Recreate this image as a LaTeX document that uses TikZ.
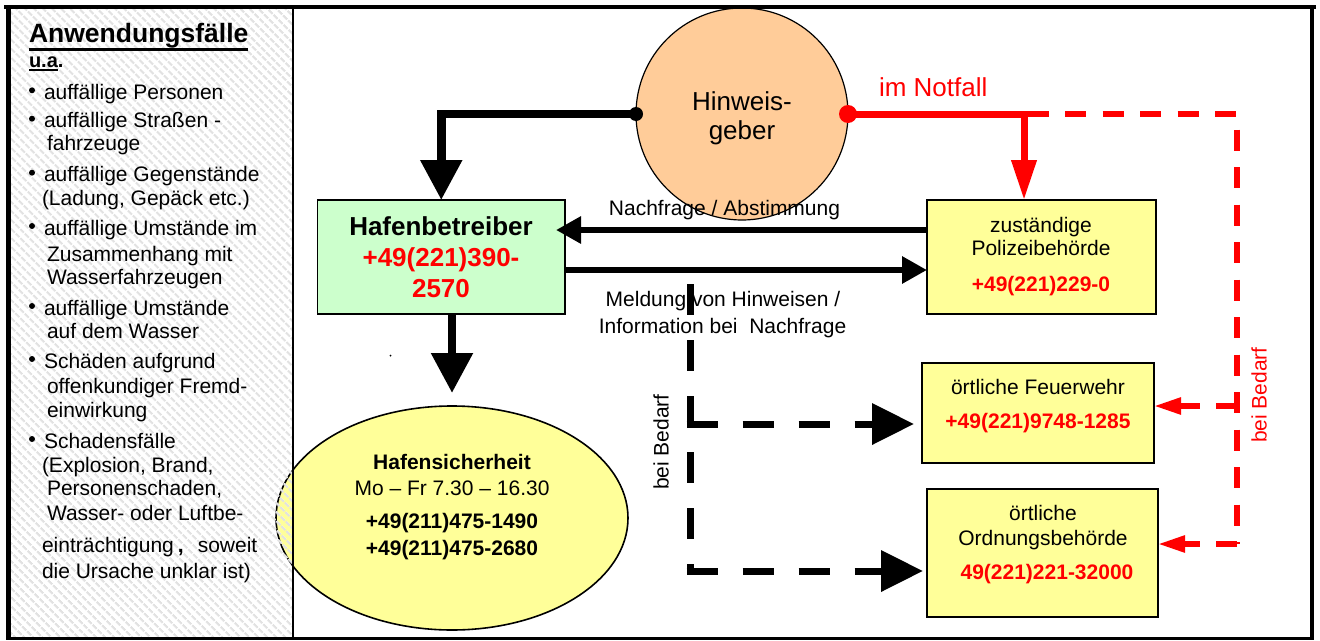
\documentclass[tikz,border=0pt]{standalone}
\usepackage{fontspec}
\setmainfont{Liberation Sans}
\usetikzlibrary{arrows.meta,shapes.geometric,patterns.meta}
\definecolor{byellow}{HTML}{FFFF99}
\definecolor{bgreen}{HTML}{CCFFCC}
\definecolor{peach}{HTML}{FFCC99}
\definecolor{nred}{HTML}{FF0000}
\definecolor{hatchgray}{HTML}{E2E2E2}
\begin{document}
\begin{tikzpicture}[x=1pt,y=-1pt,
  f21/.style={font=\fontsize{21}{25}\selectfont},
  f21b/.style={font=\fontsize{21}{25}\selectfont\bfseries},
  f20b/.style={font=\fontsize{20}{24}\selectfont\bfseries},
  f26/.style={font=\fontsize{26}{31}\selectfont},
  f26b/.style={font=\fontsize{26}{31}\selectfont\bfseries},
  tx/.style={inner sep=0pt, outer sep=0pt, anchor=base},
  ltx/.style={inner sep=0pt, outer sep=0pt, anchor=base west, f21},
  boxfr/.style={draw=black, line width=1.6pt, inner sep=0pt, outer sep=0pt},
  bigarrow/.style={line width=8.5pt, -{Triangle[length=40pt,width=40pt]}},
  midarrow/.style={line width=6pt, -{Triangle[length=25pt,width=26pt]}},
  redsolid/.style={draw=nred, line width=7pt},
  reddash/.style={draw=nred, line width=5.5pt, dash pattern=on 21pt off 16.5pt},
  redtip/.style={-{Triangle[length=27pt,width=16pt]}},
  blkdash/.style={line width=7pt, dash pattern=on 31pt off 25pt},
  blkdashtip/.style={-{Triangle[length=42pt,width=40pt]}},
]
\useasboundingbox (0,0) rectangle (1320,640);

% Hafensicherheit ellipse (under the hatched panel)
\node[ellipse, boxfr, fill=byellow, minimum width=352pt, minimum height=224pt] (hs) at (452,518) {};

% hatched left panel
\fill[pattern={Lines[angle=-45,distance=6.5pt,line width=2.6pt]}, pattern color=hatchgray] (11,9) rectangle (293,637);

% left panel text
\node[ltx, font=\fontsize{26.5}{31}\selectfont\bfseries] (t0) at (29,42.7) {Anwendungsfälle};
\draw[line width=2.2pt] ([yshift=-6.8pt]t0.base west) -- ([yshift=-6.8pt]t0.base east);
\node[ltx, f20b] (ua) at (29,67.7) {u.a};
\node[ltx, f20b] (uadot) at (ua.base east) {.};
\draw[line width=2pt] ([yshift=-2.5pt]ua.base west) -- ([yshift=-2.5pt]ua.base east);

\foreach \by in {99.3,127.7,181.7,235,315,368,448}{
  \fill (32,\by-9) circle (3);
}
\node[ltx] (l1) at (44,99.3) {auffällige Personen};
\node[ltx] (l2) at (44,127.7) {auffällige Straßen -};
\node[ltx] (l2b) at (47,150.7) {fahrzeuge};
\node[ltx] (l3) at (44,181.7) {auffällige Gegenstände};
\node[ltx] (l3b) at (42,205) {(Ladung, Gepäck etc.)};
\node[ltx] (l4) at (44,235) {auffällige Umstände im};
\node[ltx] (l4b) at (47,261) {Zusammenhang mit};
\node[ltx] (l4c) at (47,284) {Wasserfahrzeugen};
\node[ltx] (l5) at (44,315) {auffällige Umstände};
\node[ltx] (l5b) at (47,338) {auf dem Wasser};
\node[ltx] (l6) at (44,368) {Schäden aufgrund};
\node[ltx] (l6b) at (47,393) {offenkundiger Fremd-};
\node[ltx] (l6c) at (47,417) {einwirkung};
\node[ltx] (l7) at (44,448) {Schadensfälle};
\node[ltx] (l7b) at (42,472) {(Explosion, Brand,};
\node[ltx] (l7c) at (47,495) {Personenschaden,};
\node[ltx] (l7d) at (47,520) {Wasser- oder Luftbe-};
\node[ltx] (l7e) at (42,552) {einträchtigung\hspace{4pt}\textbf{,}\hspace{14pt}soweit};
\node[ltx] (l7f) at (42,578) {die Ursache unklar ist)};

% ellipse text
\node[tx, f21b] (hs1) at (452,469) {Hafensicherheit};
\node[tx, f21] (hs2) at (452,495) {Mo – Fr 7.30 – 16.30};
\node[tx, f21b] (hs3) at (452,528) {+49(211)475-1490};
\node[tx, f21b] (hs4) at (452,555) {+49(211)475-2680};

% Hinweisgeber
\node[circle, boxfr, line width=1.2pt, fill=peach, minimum size=212pt] (hg) at (742,114) {};
\node[tx, f26] (hg1) at (742,110) {Hinweis-};
\node[tx, f26] (hg2) at (742,139) {geber};

% boxes
\node[rectangle, boxfr, fill=bgreen, minimum width=247.5pt, minimum height=114pt] (hb) at (441.25,257) {};
\node[tx, f26b] (hb1) at (441,235) {Hafenbetreiber};
\node[tx, f26b, text=nred] (hb2) at (441,266) {+49(221)390-};
\node[tx, f26b, text=nred] (hb3) at (441,297) {2570};

\node[rectangle, boxfr, fill=byellow, minimum width=229pt, minimum height=114pt] (pol) at (1041.5,257) {};
\node[tx, f21] (pol1) at (1041,232) {zuständige};
\node[tx, f21] (pol2) at (1041,255) {Polizeibehörde};
\node[tx, f21b, text=nred] (pol3) at (1041,291) {+49(221)229-0};

\node[rectangle, boxfr, fill=byellow, minimum width=232pt, minimum height=100pt] (fw) at (1038,413) {};
\node[tx, f21] (fw1) at (1038,394) {örtliche Feuerwehr};
\node[tx, f21b, text=nred] (fw2) at (1038,428) {+49(221)9748-1285};

\node[rectangle, boxfr, fill=byellow, minimum width=231pt, minimum height=128pt] (ob) at (1042.5,553) {};
\node[tx, f21] (ob1) at (1043,520) {örtliche};
\node[tx, f21] (ob2) at (1043,545) {Ordnungsbehörde};
\node[tx, f21b, text=nred] (ob3) at (1047,579) {49(221)221-32000};

% black solid connectors
\draw[bigarrow] (hg.west) -| (hb.north);
\fill (hg.west) circle (7);
\draw[midarrow, shorten >=-9pt] (pol.west |- 0,230) -- (hb.east |- 0,230);
\draw[midarrow] (hb.east |- 0,270) -- (pol.west |- 0,270);
\draw[bigarrow, shorten >=13pt] (hb.south -| hs.north) -- (hs.north);
\fill (390.5,355.5) circle (1);

% red solid connector
\coordinate (rc) at (1024,114);
\draw[redsolid, -{Triangle[length=40pt,width=24pt]}] (hg.east) -- (rc) -- (rc |- pol.north);
\fill[nred] (hg.east) circle (9);

% labels
\node[tx, f21] (lab1) at (724.5,215) {Nachfrage / Abstimmung};
\node[tx, f21] (lab2) at (723,306) {Meldung von Hinweisen /};
\node[tx, f21] (lab3) at (722.5,333) {Information bei\ \ Nachfrage};
\node[tx, f26, anchor=base west, text=nred] (lab4) at (879,96) {im Notfall};
\node[f21, rotate=90, inner sep=0pt, text=nred] (lab5) at (1259,395) {bei Bedarf};
\node[f21, rotate=90, inner sep=0pt] (lab6) at (661,442) {bei Bedarf};

% black dashed connectors
\coordinate (dtop) at (690,284);
\coordinate (dbot) at (690,571);
\coordinate (dm1) at (686.5,424);
\coordinate (dm2) at (686.5,571);
\draw[blkdash] (dtop) -- (dbot);
\draw[blkdash, blkdashtip, shorten >=8pt] (dm1) -- (fw.west |- dm1);
\draw[blkdash, blkdashtip, shorten >=4pt] (dm2) -- (ob.west |- dm2);

% red dashed connectors
\coordinate (rs) at (1027.5,114);
\coordinate (rtr) at (1237,114);
\coordinate (rbr) at (1237,544);
\coordinate (rb1) at (1237,406);
\draw[reddash] (rs) -- (rtr) -- (rbr);
\draw[reddash, redtip] (rb1) -- (fw.east |- rb1);
\draw[reddash, redtip] (rbr) -- (ob.east |- rbr);

% frame
\draw[line width=1.5pt] (293,7) -- (293,638);
\draw[line width=4pt] (4,7) -- (1316,7);
\draw[line width=5pt] (8.5,5) -- (8.5,640);
\draw[line width=4pt] (1312,5) -- (1312,640);
\draw[line width=2.5pt] (6,638.5) -- (1314,638.5);
\end{tikzpicture}
\end{document}
